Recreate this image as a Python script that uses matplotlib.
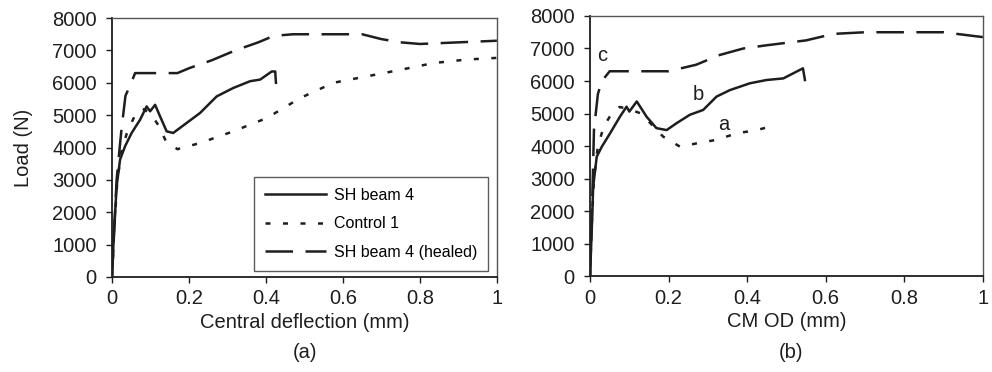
import matplotlib.pyplot as plt

plt.rcParams['font.family'] = ['Liberation Sans', 'DejaVu Sans']

# (a) central deflection
sh_x = [0, 0.005, 0.012, 0.021, 0.034, 0.051, 0.073, 0.09, 0.099, 0.112, 0.125, 0.142,
        0.159, 0.194, 0.229, 0.272, 0.315, 0.359, 0.385, 0.415, 0.424, 0.426]
sh_y = [0, 1360, 2800, 3630, 4040, 4450, 4860, 5270, 5120, 5320, 4960, 4500,
        4450, 4760, 5070, 5580, 5840, 6050, 6100, 6350, 6350, 6000]
ctl_x = [0, 0.006, 0.014, 0.025, 0.04, 0.06, 0.08, 0.1, 0.12, 0.14, 0.17, 0.229,
         0.315, 0.402, 0.489, 0.575, 0.662, 0.749, 0.835, 0.922, 1.0]
ctl_y = [0, 1500, 3000, 3900, 4500, 5000, 5200, 5050, 4700, 4200, 3950, 4140,
         4500, 4910, 5530, 6000, 6200, 6400, 6610, 6720, 6770]
heal_x = [0, 0.006, 0.012, 0.02, 0.025, 0.035, 0.05, 0.06, 0.1, 0.17, 0.2, 0.26,
          0.32, 0.38, 0.42, 0.47, 0.65, 0.7, 0.75, 0.8, 0.9, 1.0]
heal_y = [0, 1500, 3000, 4000, 4600, 5600, 6000, 6300, 6300, 6300, 6450, 6700,
          7000, 7250, 7450, 7500, 7500, 7350, 7250, 7200, 7250, 7300]

# (b) CM OD
b_x = [0, 0.004, 0.008, 0.017, 0.03, 0.051, 0.076, 0.093, 0.10, 0.119, 0.144, 0.169,
       0.195, 0.22, 0.254, 0.288, 0.322, 0.356, 0.407, 0.449, 0.492, 0.542, 0.547]
b_y = [0, 1310, 2750, 3670, 3980, 4390, 4900, 5210, 5060, 5370, 4900, 4550,
       4490, 4700, 4960, 5110, 5520, 5720, 5930, 6030, 6080, 6390, 6030]
a_x = [0, 0.004, 0.01, 0.02, 0.035, 0.055, 0.075, 0.095, 0.13, 0.186, 0.229, 0.271,
       0.322, 0.373, 0.424, 0.466]
a_y = [0, 1500, 3000, 4000, 4600, 5000, 5200, 5150, 5000, 4290, 3980, 4080,
       4190, 4390, 4490, 4620]
c_x = [0, 0.004, 0.01, 0.02, 0.03, 0.05, 0.2, 0.27, 0.33, 0.39, 0.45, 0.55, 0.62,
       0.7, 0.9, 1.0]
c_y = [0, 1500, 4500, 5600, 6000, 6300, 6300, 6500, 6800, 7000, 7100, 7250, 7450,
       7500, 7500, 7350]

ink = '#1e1e1e'
fs = 14.5

fig = plt.figure(figsize=(9.92, 3.72), dpi=100)
ax1 = fig.add_axes([0.1129, 0.2554, 0.388, 0.696])
ax2 = fig.add_axes([0.5948, 0.258, 0.396, 0.699])

dot = (0, (2, 5))
dash = (0, (11, 5))

ax1.plot(sh_x, sh_y, color=ink, lw=1.8, label='SH beam 4')
ax1.plot(ctl_x, ctl_y, color=ink, lw=1.8, linestyle=dot, label='Control 1')
ax1.plot(heal_x, heal_y, color=ink, lw=1.8, linestyle=dash, label='SH beam 4 (healed)')

ax2.plot(b_x, b_y, color=ink, lw=1.8)
ax2.plot(a_x, a_y, color=ink, lw=1.8, linestyle=dot)
ax2.plot(c_x, c_y, color=ink, lw=1.8, linestyle=dash)
ax2.text(0.03, 6800, 'c', fontsize=fs, color=ink, ha='center', va='center')
ax2.text(0.275, 5570, 'b', fontsize=fs, color=ink, ha='center', va='center')
ax2.text(0.34, 4650, 'a', fontsize=fs, color=ink, ha='center', va='center')

for ax in (ax1, ax2):
    ax.set_xlim(0, 1)
    ax.set_ylim(0, 8000)
    ax.set_xticks([0, 0.2, 0.4, 0.6, 0.8, 1])
    ax.set_xticklabels(['0', '0.2', '0.4', '0.6', '0.8', '1'])
    ax.set_yticks(range(0, 8001, 1000))
    ax.tick_params(direction='out', length=4, width=1, colors=ink, labelsize=fs)
    ax.tick_params(axis='y', pad=7)
    ax.tick_params(axis='x', pad=5)
    for s in ax.spines.values():
        s.set_color('#555555')
        s.set_linewidth(1)
    ax.spines['left'].set_color(ink)
    ax.spines['bottom'].set_color(ink)
    ax.spines['left'].set_linewidth(1.3)
    ax.spines['bottom'].set_linewidth(1.3)

ax1.set_ylabel('Load (N)', fontsize=fs, color=ink, labelpad=14)
ax1.set_xlabel('Central deflection (mm)', fontsize=fs, color=ink, labelpad=3)
ax2.set_xlabel('CM OD (mm)', fontsize=fs, color=ink, labelpad=3)

leg = ax1.legend(loc='lower right', bbox_to_anchor=(0.978, 0.023), borderaxespad=0,
                 fontsize=11.5, frameon=True, fancybox=False, edgecolor='#333333',
                 handlelength=3.8, labelspacing=0.85, borderpad=0.7, handletextpad=0.5)
leg.get_frame().set_linewidth(1)

fig.text(0.3075, 0.052, '(a)', fontsize=fs, color=ink, ha='center', va='center')
fig.text(0.797, 0.052, '(b)', fontsize=fs, color=ink, ha='center', va='center')

fig.savefig('out.png', dpi=100)
